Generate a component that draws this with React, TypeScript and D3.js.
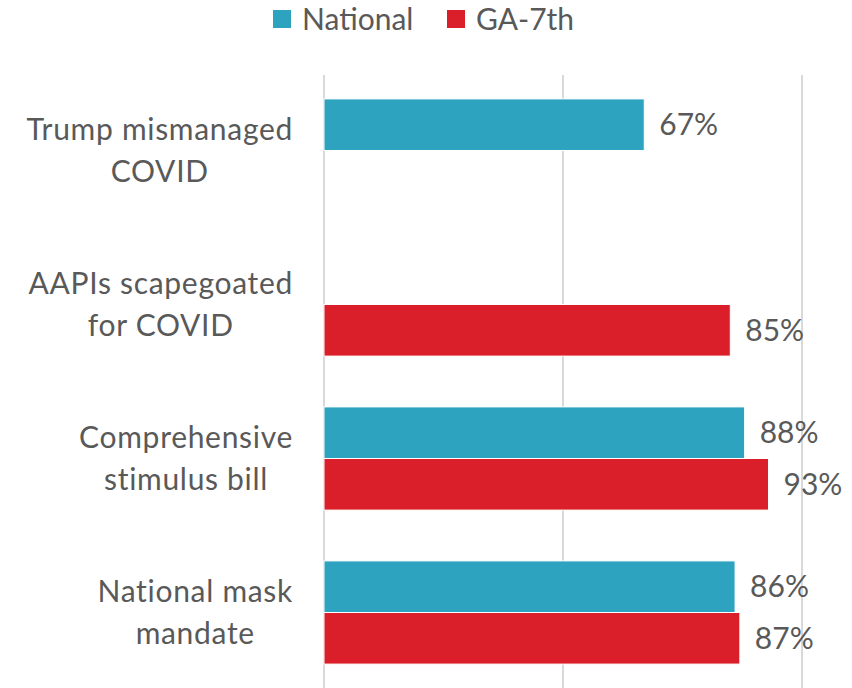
import React, { useEffect, useRef } from "react";
import * as d3 from "d3";

const categories = [
  ["Trump mismanaged", "COVID"],
  ["AAPIs scapegoated", "for COVID"],
  ["Comprehensive", "stimulus bill"],
  ["National mask", "mandate"],
];
const seriesNames = ["National", "GA-7th"];
const nationalValues: (number | null)[] = [67, null, 88, 86];
const gaValues: (number | null)[] = [null, 85, 93, 87];
const xTicks = [0, 50, 100];
const colors = ["#2ea3c0", "#da1f2a"];

const W = 852;
const H = 688;
const FONT = "Lato, 'Open Sans', sans-serif";
const FS = 30;
const TEXT = "#595959";

export default function App() {
  const ref = useRef<SVGSVGElement | null>(null);
  useEffect(() => {
    const svg = d3.select(ref.current);
    svg.selectAll("*").remove();
    const x = d3.scaleLinear().domain([0, 100]).range([324, 802]);
    const y = d3
      .scaleBand<number>()
      .domain(d3.range(categories.length))
      .range([73.5, 689.5])
      .paddingInner(0.33)
      .paddingOuter(0.165);
    const sub = d3.scaleBand<number>().domain([0, 1]).range([0, y.bandwidth()]);

    // gridlines
    svg
      .append("g")
      .selectAll("line")
      .data(xTicks)
      .join("line")
      .attr("x1", (d) => x(d))
      .attr("x2", (d) => x(d))
      .attr("y1", 75)
      .attr("y2", H)
      .attr("stroke", "#d9d9d9")
      .attr("stroke-width", 2);

    const series = [nationalValues, gaValues];
    series.forEach((vals, si) => {
      const g = svg.append("g");
      const data = vals
        .map((v, i) => ({ v, i }))
        .filter((d) => d.v !== null) as { v: number; i: number }[];
      g.selectAll("rect")
        .data(data)
        .join("rect")
        .attr("x", x(0))
        .attr("y", (d) => (y(d.i) as number) + (sub(si) as number))
        .attr("width", (d) => x(d.v) - x(0))
        .attr("height", sub.bandwidth())
        .attr("fill", colors[si])
        .attr("stroke", "#fff")
        .attr("stroke-width", 1);
      g.selectAll("text")
        .data(data)
        .join("text")
        .attr("x", (d) => x(d.v) + 15)
        .attr("y", (d) => (y(d.i) as number) + (sub(si) as number) + sub.bandwidth() / 2)
        .attr("dy", "0.35em")
        .attr("font-family", FONT)
        .attr("font-size", FS)
        .attr("fill", TEXT)
        .text((d) => `${d.v}%`);
    });

    // category labels
    const labelRight = 293;
    categories.forEach((lines, i) => {
      const cy = (y(i) as number) + y.bandwidth() / 2;
      const t = svg
        .append("text")
        .attr("font-family", FONT)
        .attr("font-size", FS)
        .attr("letter-spacing", 0.7)
        .attr("fill", TEXT)
        .attr("text-anchor", "middle");
      const lh = 42;
      lines.forEach((ln, li) => {
        t.append("tspan")
          .attr("y", cy + (li - (lines.length - 1) / 2) * lh)
          .attr("dy", "0.35em")
          .text(ln);
      });
      const spans = t.selectAll<SVGTSpanElement, unknown>("tspan").nodes();
      const maxW = Math.max(...spans.map((s) => s.getComputedTextLength()));
      t.selectAll("tspan").attr("x", labelRight - maxW / 2);
    });

    // legend
    const legend = svg.append("g");
    const lx = [273, 447];
    seriesNames.forEach((n, i) => {
      legend
        .append("rect")
        .attr("x", lx[i])
        .attr("y", 10)
        .attr("width", 18)
        .attr("height", 18)
        .attr("fill", colors[i]);
      legend
        .append("text")
        .attr("x", lx[i] + 29)
        .attr("y", 19)
        .attr("dy", "0.35em")
        .attr("font-family", FONT)
        .attr("font-size", FS)
        .attr("fill", TEXT)
        .text(n);
    });
  }, []);
  return (
    <svg
      ref={ref}
      width={W}
      height={H}
      style={{ position: "absolute", left: 0, top: 0, display: "block" }}
    />
  );
}
